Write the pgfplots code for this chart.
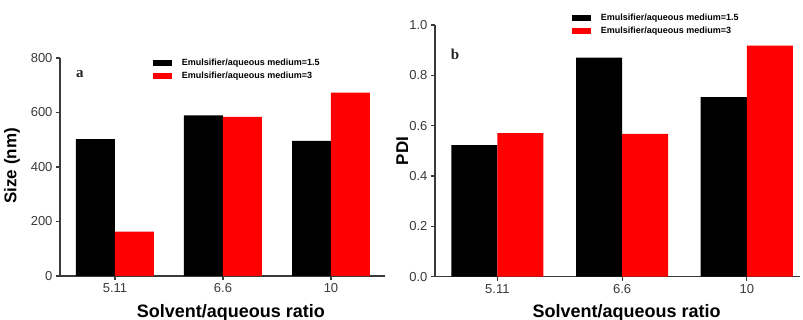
\documentclass[border=0pt]{standalone}
\usepackage{fontspec}
\setmainfont{Liberation Sans}
\newfontfamily\serifb{Liberation Serif}
\usepackage{pgfplots}
\pgfplotsset{compat=1.18}
\definecolor{tk}{HTML}{3A3A3A}
\pgfplotsset{
  panel/.style={
    scale only axis,
    anchor=south west,
    ybar=0pt,
    axis lines=left,
    axis line style={-, tk, line width=1.3pt},
    tick style={tk, line width=1.1pt},
    tick align=outside,
    major tick length=4pt,
    xtick={0,1,2},
    xticklabels={5.11,6.6,10},
    ymin=0,
    tick label style={font=\fontsize{13}{13}\selectfont, text=tk},
    /pgf/number format/assume math mode=true,
    label style={font=\bfseries\fontsize{17}{17}\selectfont},
    xlabel={Solvent/aqueous ratio},
    xlabel style={font=\bfseries\fontsize{18}{18}\selectfont},
    legend style={draw=none, fill=none, font=\bfseries\fontsize{9}{10}\selectfont,
      anchor=north west, legend cell align=left, row sep=0.8pt,
      /tikz/every odd column/.style={column sep=8pt}},
    legend image code/.code={\fill[##1] (0pt,-3pt) rectangle (19pt,3pt);},
    every axis plot/.append style={draw=none},
  }
}
\begin{document}
\begin{tikzpicture}
\useasboundingbox (0,0) rectangle (803pt,320pt);
% Panel a
\begin{axis}[panel,
  at={(60pt,44pt)}, width=325pt, height=218pt,
  xmin=-0.509, xmax=2.5, ymax=800,
  ytick={0,200,400,600,800},
  bar width=0.361,
  ylabel={Size (nm)},
  ylabel style={at={(axis description cs:-0.148,0.505)}, anchor=center},
  xlabel style={at={(axis description cs:0.526,-0.17)}, anchor=center},
  legend style={at={(axis description cs:0.276,1.016)}},
]
\addplot[fill=black] coordinates {(0,502) (1,589) (2,496)};
\addplot[fill=red] coordinates {(0,163) (1,584) (2,673)};
\legend{Emulsifier/aqueous medium=1.5, Emulsifier/aqueous medium=3}
\node[font=\serifb\bfseries\fontsize{15}{15}\selectfont, text=black!85] at (axis cs:-0.324,742) {a};
\end{axis}
% Panel b
\begin{axis}[panel,
  at={(435pt,43.3pt)}, width=365pt, height=251.7pt,
  xmin=-0.5, xmax=2.427, ymax=1.0,
  ytick={0,0.2,0.4,0.6,0.8,1.0},
  yticklabel style={/pgf/number format/.cd, fixed, fixed zerofill, precision=1},
  bar width=0.369,
  ylabel={PDI},
  ylabel style={at={(axis description cs:-0.09,0.5)}, anchor=center},
  xlabel style={at={(axis description cs:0.525,-0.144)}, anchor=center},
  legend style={at={(axis description cs:0.366,1.06)}},
]
\addplot[fill=black] coordinates {(0,0.523) (1,0.870) (2,0.713)};
\addplot[fill=red] coordinates {(0,0.570) (1,0.567) (2,0.918)};
\legend{Emulsifier/aqueous medium=1.5, Emulsifier/aqueous medium=3}
\node[font=\serifb\bfseries\fontsize{15}{15}\selectfont, text=black!85] at (axis cs:-0.34,0.885) {b};
\end{axis}
\end{tikzpicture}
\end{document}
